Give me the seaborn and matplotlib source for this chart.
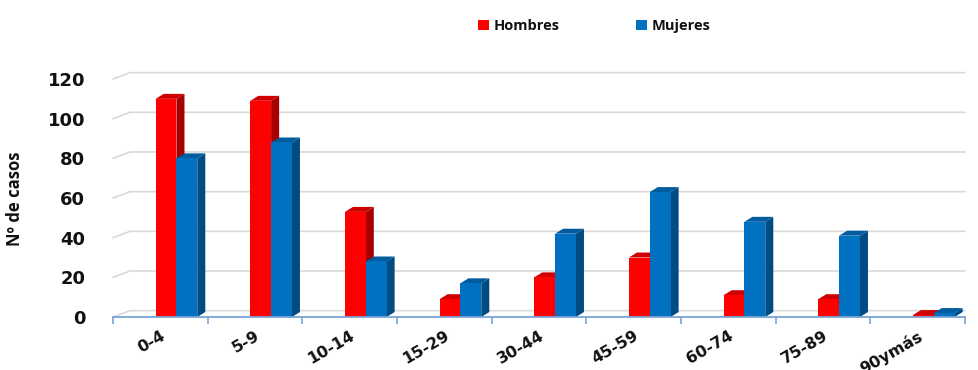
import matplotlib
matplotlib.use("Agg")
import matplotlib.pyplot as plt
from matplotlib.patches import Polygon, Patch
import numpy as np
import pandas as pd
import seaborn as sns

# Casos por grupo de edad y sexo
grupos = ["0-4", "5-9", "10-14", "15-29", "30-44", "45-59", "60-74", "75-89", "90ymás"]
hombres = [110, 109, 53, 9, 20, 30, 11, 9, 1]
mujeres = [80, 88, 28, 17, 42, 63, 48, 41, 2]
series = ["Hombres", "Mujeres"]
y_ticks = [0, 20, 40, 60, 80, 100, 120]

df = pd.DataFrame({
    "grupo": grupos * 2,
    "sexo": [series[0]] * len(grupos) + [series[1]] * len(grupos),
    "casos": hombres + mujeres,
})

front = {"Hombres": "#FF0000", "Mujeres": "#0070C0"}
side = {"Hombres": "#A80000", "Mujeres": "#004C82"}
top = {"Hombres": "#D00000", "Mujeres": "#005C9E"}

sns.set_theme(style="white")
plt.rcParams["font.family"] = ["DejaVu Sans"]
label_font = ["Open Sans", "DejaVu Sans"]
ink = "#111111"

fig = plt.figure(figsize=(9.79, 3.70), dpi=100)
ax = fig.add_axes([113 / 979, 53 / 370, (965 - 113) / 979, (317 - 79) / 370])

sns.barplot(data=df, x="grupo", y="casos", hue="sexo", order=grupos,
            hue_order=series, palette=front, width=0.44, dodge=True,
            saturation=1, legend=False, ax=ax, linewidth=0)

# Shift the bar pair slightly right and add depth faces behind each bar
shift = 0.17
dx, dy = 0.085, 2.5
for bar in ax.patches:
    bar.set_x(bar.get_x() + shift)
    bar.set_zorder(2)
    fc = bar.get_facecolor()
    key = "Hombres" if fc[0] > 0.9 else "Mujeres"
    x0, y0 = bar.get_x(), bar.get_y()
    x1, y1 = x0 + bar.get_width(), y0 + bar.get_height()
    ax.add_patch(Polygon([(x1, y0), (x1 + dx, y0 + dy), (x1 + dx, y1 + dy), (x1, y1)],
                         closed=True, facecolor=side[key], edgecolor="none",
                         clip_on=False, zorder=1.9))
    ax.add_patch(Polygon([(x0, y1), (x0 + dx, y1 + dy), (x1 + dx, y1 + dy), (x1, y1)],
                         closed=True, facecolor=top[key], edgecolor="none",
                         clip_on=False, zorder=1.9))

n = len(grupos)
ax.set_xlim(-0.5, n - 0.5)
ax.set_ylim(0, 120)

# Back-wall gridlines with a short slanted lead-in on the left
wall_dx, wall_dy = 0.18, 3.2
for v in y_ticks:
    ax.plot([-0.5, -0.5 + wall_dx, n - 0.5], [v, v + wall_dy, v + wall_dy],
            color="#D9D9D9", linewidth=1.2, clip_on=False, zorder=0.5)

ax.set_yticks(y_ticks)
ax.set_yticklabels([str(v) for v in y_ticks], fontsize=13, fontweight="bold",
                   color=ink)
ax.tick_params(axis="y", length=0, pad=20)

ax.set_xticks(range(n))
ax.set_xticklabels(grupos, rotation=30, ha="right", rotation_mode="anchor",
                   fontsize=11.5, fontweight="bold", color=ink)
ax.tick_params(axis="x", which="major", length=0, pad=8)
ax.set_xticks(np.arange(-0.5, n, 1.0), minor=True)
ax.tick_params(axis="x", which="minor", length=5, width=1.2, color="#7BA3D6",
               direction="out")
ax.xaxis.set_tick_params(which="minor", bottom=True)

for s in ["top", "right", "left"]:
    ax.spines[s].set_visible(False)
ax.spines["bottom"].set_color("#7BA3D6")
ax.spines["bottom"].set_linewidth(1.3)
ax.spines["bottom"].set_zorder(3)

ax.set_xlabel("")
ax.set_ylabel("Nº de casos", fontsize=12, fontweight="bold", family=label_font,
              color=ink)
ax.yaxis.set_label_coords(-0.105, 0.495)

handles = [Patch(facecolor=front[s], edgecolor="none") for s in series]
leg = fig.legend(handles, series, loc="center", bbox_to_anchor=(0.607, 0.93),
                 ncol=2, frameon=False, handlelength=0.72, handleheight=0.72,
                 columnspacing=5.3, handletextpad=0.3,
                 prop={"family": label_font, "weight": "bold", "size": 10.5})
for t in leg.get_texts():
    t.set_color(ink)

fig.savefig("out.png", dpi=100)
